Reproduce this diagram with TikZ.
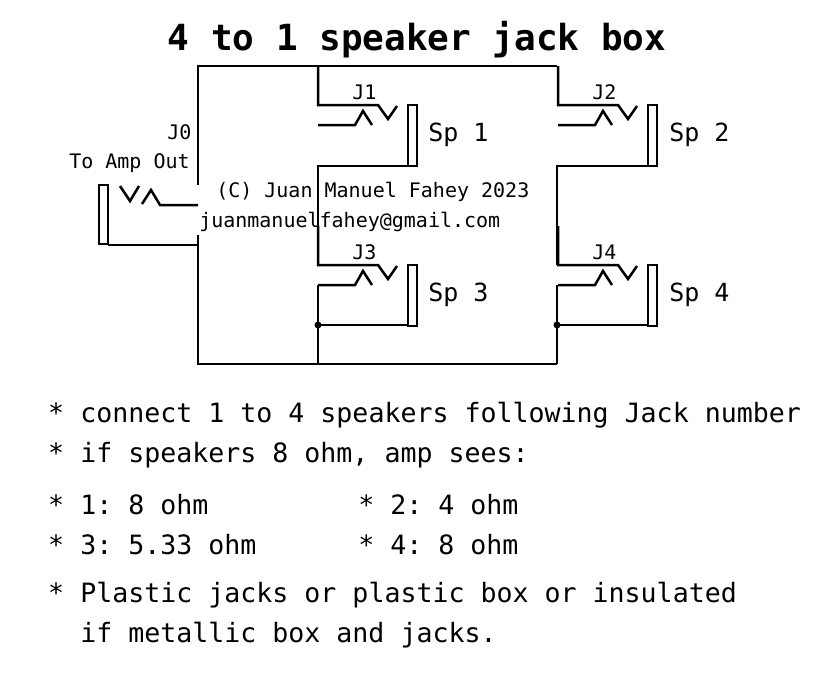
\documentclass[tikz,border=0pt]{standalone}
\usepackage{fontspec}
\setmonofont{DejaVu Sans Mono}
\begin{document}
\begin{tikzpicture}[x=1pt,y=-1pt,line width=2.5pt,
  wire/.style={draw=black,line width=2.5pt,line join=miter},
  lbl/.style={anchor=west,inner sep=0pt,font=\ttfamily\fontsize{20}{20}\selectfont},
  splbl/.style={anchor=west,inner sep=0pt,font=\ttfamily\fontsize{25}{25}\selectfont},
  note/.style={anchor=west,inner sep=0pt,font=\ttfamily\fontsize{26.6}{26.6}\selectfont},
  dot/.style={circle,fill=black,inner sep=0pt,minimum size=7pt}]
\useasboundingbox (0,0) rectangle (831,675);
\node[inner sep=0pt,font=\ttfamily\bfseries\fontsize{36}{36}\selectfont] (title) at (417,40) {4 to 1 speaker jack box};
% main frame
\draw[wire] (198,185) -- (198,66) -- (557,66);
\draw[wire] (198,235) -- (198,364) -- (557,364);
% J0
\draw[wire] (99,185) rectangle (108,244);
\draw[wire] (108,245) -- (198,245);
\draw[wire] (120,186) -- (130,201) -- (139,186);
\draw[wire] (142,204) -- (151,190) -- (160,205) -- (198,205);
\node[lbl] (j0) at (166,132) {J0};
\node[lbl] (amp) at (68,163) {To Amp Out};
% jacks 1-4
\foreach \dx/\dy/\n in {0/0/1, 240/0/2, 0/160/3, 240/160/4} {
  \begin{scope}[shift={(\dx,\dy)}]
    \draw[wire] (318,66) -- (318,105) -- (378,105) -- (388,119) -- (397,106);
    \draw[wire] (408,105) rectangle (417,166);
    \draw[wire] (318,125) -- (355,125) -- (363,111) -- (372,125);
    \node[lbl] at (351,92) {J\n};
  \end{scope}
}
\draw[wire] (408,166) -- (318,166) -- (318,265);
\draw[wire] (648,166) -- (557,166) -- (557,265);
\draw[wire] (408,325) -- (318,325) -- (318,285);
\draw[wire] (318,325) -- (318,364);
\draw[wire] (648,325) -- (557,325) -- (557,285);
\draw[wire] (557,325) -- (557,364);
\node[dot] (d1) at (318,325) {};
\node[dot] (d2) at (557,325) {};
\node[splbl] (s1) at (427,135) {Sp 1};
\node[splbl] (s2) at (668,135) {Sp 2};
\node[splbl] (s3) at (427,295) {Sp 3};
\node[splbl] (s4) at (668,295) {Sp 4};
\node[lbl] (c) at (215,192) {(C) Juan Manuel Fahey 2023};
\node[lbl] (m) at (198,222) {juanmanuelfahey@gmail.com};
\node[note] (n1) at (47,415) {* connect 1 to 4 speakers following Jack number};
\node[note] (n2) at (47,455) {* if speakers 8 ohm, amp sees:};
\node[note] (n3) at (47,505) {* 1: 8 ohm};
\node[note] (n4) at (357,505) {* 2: 4 ohm};
\node[note] (n5) at (47,545) {* 3: 5.33 ohm};
\node[note] (n6) at (357,545) {* 4: 8 ohm};
\node[note] (n7) at (47,595) {* Plastic jacks or plastic box or insulated};
\node[note] (n8) at (79,635) {if metallic box and jacks.};
\end{tikzpicture}
\end{document}
